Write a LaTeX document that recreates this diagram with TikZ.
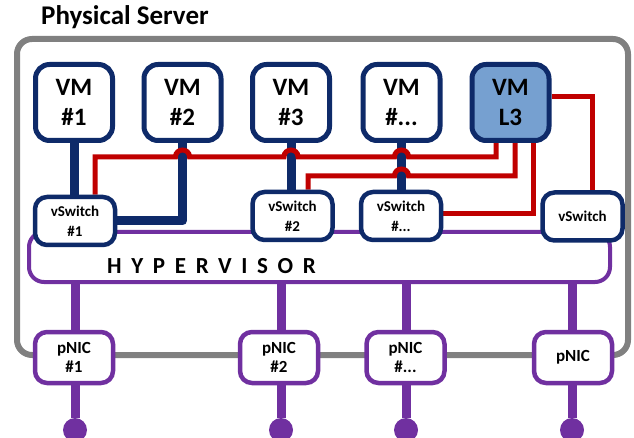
\documentclass[tikz,border=0pt]{standalone}
\usepackage{fontspec}
\setmainfont{Carlito}
\usetikzlibrary{calc}
\definecolor{navyc}{HTML}{0E2A69}
\definecolor{redc}{HTML}{C00000}
\definecolor{purp}{HTML}{7030A0}
\definecolor{grayc}{HTML}{808080}
\definecolor{lthree}{HTML}{76A0D0}
\pgfdeclarelayer{bgA}
\pgfdeclarelayer{bgB}
\pgfsetlayers{bgA,bgB,main}
\begin{document}
\begin{tikzpicture}[x=1pt,y=-1pt,
  vmbox/.style={draw=navyc, line width=5pt, rounded corners=14pt, fill=white, minimum width=77pt, minimum height=76pt, align=center, font=\bfseries\fontsize{25}{30}\selectfont, inner sep=0pt},
  swbox/.style={draw=navyc, line width=4.5pt, rounded corners=12pt, fill=white, minimum width=80pt, minimum height=48pt, align=center, font=\bfseries\fontsize{15}{20}\selectfont, inner sep=0pt},
  nicbox/.style={draw=purp, line width=4.5pt, rounded corners=12pt, fill=white, minimum width=78pt, minimum height=51pt, align=center, font=\bfseries\fontsize{17}{19}\selectfont, inner sep=0pt},
  navyline/.style={draw=navyc, line width=9pt, line join=round},
  redline/.style={draw=redc, line width=5pt, line join=miter},
  purpline/.style={draw=purp, line width=9pt},
  port/.style={circle, fill=purp, minimum size=24pt, inner sep=0pt}]
\useasboundingbox (0,0) rectangle (634,438);
% title
\node[anchor=base west, font=\bfseries\fontsize{27}{30}\selectfont, inner sep=0pt] (title) at (41,25) {Physical Server};
% server box
\begin{pgfonlayer}{bgA}
\draw[grayc, line width=6pt, rounded corners=15pt, fill=white] (17,39) rectangle (628,355);
\end{pgfonlayer}
% hypervisor
\node[draw=purp, line width=4pt, rounded corners=15pt, fill=white, minimum width=581pt, minimum height=50pt, inner sep=0pt] (hyp) at (319.5,257) {};
\node[anchor=base west, inner sep=0pt, font=\bfseries\fontsize{23}{26}\selectfont\addfontfeature{LetterSpace=42}] (hyptext) at (107,273) {HYPERVISOR};
% VMs
\node[vmbox] (vm1) at (74,102.5) {VM\\\#1};
\node[vmbox] (vm2) at (182.5,102.5) {VM\\\#2};
\node[vmbox] (vm3) at (291,102.5) {VM\\\#3};
\node[vmbox] (vmd) at (401.5,102.5) {VM\\\#...};
\node[vmbox, fill=lthree] (vml) at (510.5,102.5) {VM\\L3};
% vSwitches
\node[swbox] (sw1) at (75,221) {vSwitch\\\#1};
\node[swbox] (sw2) at (292.5,216) {vSwitch\\\#2};
\node[swbox] (swd) at (401,216) {vSwitch\\\#...};
\node[swbox] (swr) at (582.5,216.5) {vSwitch};
% pNICs
\node[nicbox] (p1) at (74,357.5) {pNIC\\\#1};
\node[nicbox] (p2) at (279,357.5) {pNIC\\\#2};
\node[nicbox] (pd) at (405.5,357.5) {pNIC\\\#...};
\node[nicbox] (pr) at (573,357.5) {pNIC};
% ports
\node[port] (c1) at (75,430) {};
\node[port] (c2) at (281,430) {};
\node[port] (cd) at (406,430) {};
\node[port] (cr) at (572,430) {};
\begin{pgfonlayer}{bgB}
% purple links
\draw[purpline] (hyp.south -| c1) -- (c1 |- p1.north);
\draw[purpline] (c1 |- p1.south) -- (c1);
\draw[purpline] (hyp.south -| c2) -- (c2 |- p2.north);
\draw[purpline] (c2 |- p2.south) -- (c2);
\draw[purpline] (hyp.south -| cd) -- (cd |- pd.north);
\draw[purpline] (cd |- pd.south) -- (cd);
\draw[purpline] (hyp.south -| cr) -- (cr |- pr.north);
\draw[purpline] (cr |- pr.south) -- (cr);
% navy links
\draw[navyline] (vm1.south) -- (vm1.south |- sw1.north);
\draw[navyline] (vm2.south) |- (sw1.east);
\draw[navyline] (vm3.south) -- (vm3.south |- sw2.north);
\draw[navyline] (vmd.south) -- (vmd.south |- swd.north);
% red links
\draw[redline] (95,0 |- sw1.north) -- (95,157)
  -- (175.5,157) .. controls (175.5,147.7) and (189.5,147.7) .. (189.5,157)
  -- (284,157) .. controls (284,147.7) and (298,147.7) .. (298,157)
  -- (394.5,157) .. controls (394.5,147.7) and (408.5,147.7) .. (408.5,157)
  -- (496,157) -- (496,0 |- vml.south);
\draw[redline] (515,0 |- vml.south) -- (515,176)
  -- (408.5,176) .. controls (408.5,166.7) and (394.5,166.7) .. (394.5,176)
  -- (308,176) -- (308,0 |- sw2.north);
\draw[redline] (533,0 |- vml.south) |- (swd.east |- 0,214);
\draw[redline] (vml.east |- 0,97) -| (592,0 |- swr.north);
\end{pgfonlayer}
\end{tikzpicture}
\end{document}
